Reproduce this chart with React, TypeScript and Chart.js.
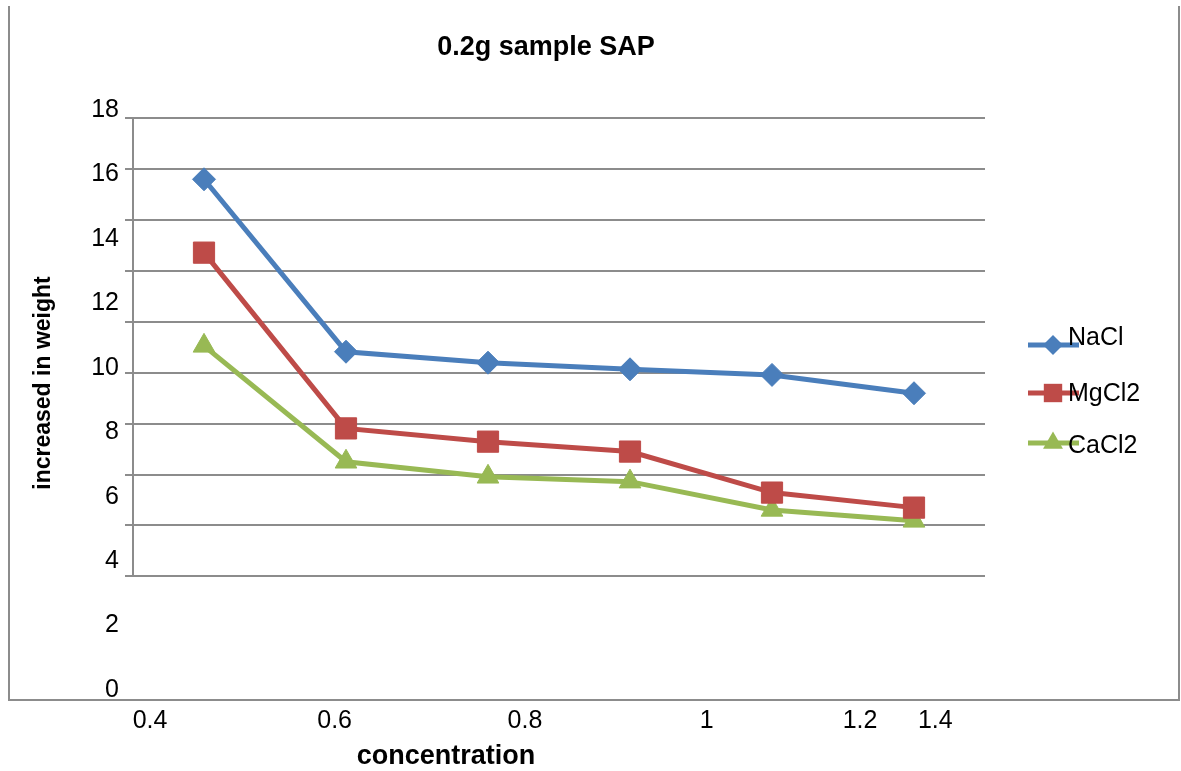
import React, { useEffect, useRef } from 'react';
import { Chart, registerables } from 'chart.js';
import { drawPoint } from 'chart.js/helpers';

Chart.register(...registerables);

// ---- data ----
const categories = ['0.4', '0.6', '0.8', '1', '1.2', '1.4'];
const naclValues = [15.59, 8.82, 8.39, 8.13, 7.91, 7.19];
const mgcl2Values = [12.71, 5.81, 5.29, 4.9, 3.29, 2.7];
const cacl2Values = [9.05, 4.5, 3.91, 3.72, 2.61, 2.18];
const gridTickValues = [0, 2, 4, 6, 8, 10, 12, 14, 16, 18];
const xTickLabels = ['0.4', '0.6', '0.8', '1', '1.2', '1.4'];
// where each x tick label sits, in category-index units of the data axis
const xTickPositions = [-0.38, 0.92, 2.26, 3.54, 4.62, 5.15];
const seriesNames = ['NaCl', 'MgCl2', 'CaCl2'];

const titleText = '0.2g sample SAP';
const xTitleText = 'concentration';
const yTitleText = 'increased in weight';

const colors = ['#4A7EBB', '#BE4B48', '#98B954'];
const pointStyles = ['rectRot', 'rect', 'triangle'];
const pointRadii = [11.5, 15, 12.5];
const legendRadii = [10, 13, 11.5];

const FONT = '"Liberation Sans", Arial, sans-serif';
const GRID = '#8c8c8c';

const decorPlugin = {
  id: 'decor',
  beforeDraw(chart: any) {
    const { ctx, width, height } = chart;
    ctx.save();
    ctx.fillStyle = '#ffffff';
    ctx.fillRect(0, 0, width, height);
    ctx.strokeStyle = GRID;
    ctx.lineWidth = 2;
    ctx.beginPath();
    ctx.moveTo(9, 6);
    ctx.lineTo(9, 700);
    ctx.lineTo(1179, 700);
    ctx.lineTo(1179, 6);
    ctx.stroke();
    ctx.restore();
  },
  beforeDatasetsDraw(chart: any) {
    const { ctx, chartArea, scales } = chart;
    const y = scales.y;
    ctx.save();
    ctx.strokeStyle = GRID;
    ctx.lineWidth = 2;
    ctx.beginPath();
    ctx.moveTo(chartArea.left, y.getPixelForValue(gridTickValues[gridTickValues.length - 1]));
    ctx.lineTo(chartArea.left, y.getPixelForValue(gridTickValues[0]));
    ctx.stroke();
    ctx.restore();
  },
  afterDraw(chart: any) {
    const { ctx, chartArea } = chart;
    ctx.save();
    ctx.fillStyle = '#000';
    // chart title
    ctx.font = `bold 27px ${FONT}`;
    ctx.textAlign = 'center';
    ctx.textBaseline = 'alphabetic';
    ctx.fillText(titleText, 546, 55);
    // x title
    ctx.fillText(xTitleText, 446, 764);
    // y title
    ctx.save();
    ctx.font = `bold 23px ${FONT}`;
    ctx.translate(44, 383);
    ctx.rotate(-Math.PI / 2);
    ctx.textBaseline = 'middle';
    ctx.fillText(yTitleText, 0, 0);
    ctx.restore();

    // legend
    const x0 = chartArea.right + 43;
    const x1 = chartArea.right + 94;
    const xm = chartArea.right + 68;
    const lineYs = [345, 393, 443];
    const textYs = [345, 401, 453];
    chart.data.datasets.forEach((ds: any, i: number) => {
      ctx.strokeStyle = ds.borderColor;
      ctx.lineWidth = 5;
      ctx.beginPath();
      ctx.moveTo(x0, lineYs[i]);
      ctx.lineTo(x1, lineYs[i]);
      ctx.stroke();
      ctx.fillStyle = ds.backgroundColor;
      drawPoint(ctx, { pointStyle: ds.pointStyle, radius: legendRadii[i], rotation: 0, borderWidth: 0 } as any, xm, lineYs[i]);
      ctx.fillStyle = '#000';
      ctx.font = `25px ${FONT}`;
      ctx.textAlign = 'left';
      ctx.textBaseline = 'alphabetic';
      ctx.fillText(ds.label, chartArea.right + 83, textYs[i]);
    });
    ctx.restore();
  },
};

export default function App() {
  const ref = useRef<HTMLCanvasElement>(null);
  useEffect(() => {
    const seriesValues = [naclValues, mgcl2Values, cacl2Values];
    const chart = new Chart(ref.current as HTMLCanvasElement, {
      type: 'line',
      data: {
        labels: categories,
        datasets: seriesValues.map((vals, i) => ({
          label: seriesNames[i],
          data: vals,
          borderColor: colors[i],
          backgroundColor: colors[i],
          pointBackgroundColor: colors[i],
          pointBorderColor: colors[i],
          pointBorderWidth: 1,
          borderWidth: 5,
          pointStyle: pointStyles[i] as any,
          pointRadius: pointRadii[i],
          tension: 0,
          fill: false,
          clip: false as any,
        })),
      },
      options: {
        responsive: false,
        animation: false,
        devicePixelRatio: 1,
        layout: { padding: { top: 110, right: 196, bottom: 0, left: 0 } },
        plugins: {
          legend: { display: false },
          title: { display: false },
          tooltip: { enabled: false },
        },
        scales: {
          x: { type: 'category', offset: true, display: false },
          xl: {
            type: 'linear',
            position: 'bottom',
            min: -0.5,
            max: 5.5,
            grid: { display: false, drawTicks: false },
            border: { display: false },
            afterBuildTicks: (s: any) => {
              s.ticks = xTickPositions.map((v) => ({ value: v }));
            },
            afterFit: (s: any) => {
              s.height = 81;
            },
            ticks: {
              autoSkip: false,
              maxRotation: 0,
              padding: 16,
              color: '#000',
              font: { family: FONT, size: 25 },
              callback: (_v: any, i: number) => xTickLabels[i],
            },
          },
          y: {
            type: 'linear',
            position: 'left',
            weight: 0,
            min: -4.46,
            max: 18.31,
            afterBuildTicks: (s: any) => {
              s.ticks = gridTickValues.map((v) => ({ value: v }));
            },
            afterFit: (s: any) => {
              s.width = 8;
            },
            ticks: { display: false },
            grid: { color: GRID, lineWidth: 2, tickLength: 8, drawTicks: true },
            border: { display: false },
          },
          yl: {
            type: 'linear',
            position: 'left',
            weight: 1,
            min: 0,
            max: 18,
            grid: { display: false, drawTicks: false },
            border: { display: false },
            afterFit: (s: any) => {
              s.width = 125;
            },
            ticks: {
              stepSize: 2,
              padding: 6,
              color: '#000',
              font: { family: FONT, size: 25 },
            },
          },
        } as any,
      },
      plugins: [decorPlugin],
    });
    return () => chart.destroy();
  }, []);

  return (
    <div style={{ position: 'fixed', left: 0, top: 0, width: 1181, height: 771, background: '#fff' }}>
      <canvas ref={ref} width={1181} height={771} style={{ display: 'block', width: 1181, height: 771 }} />
    </div>
  );
}
